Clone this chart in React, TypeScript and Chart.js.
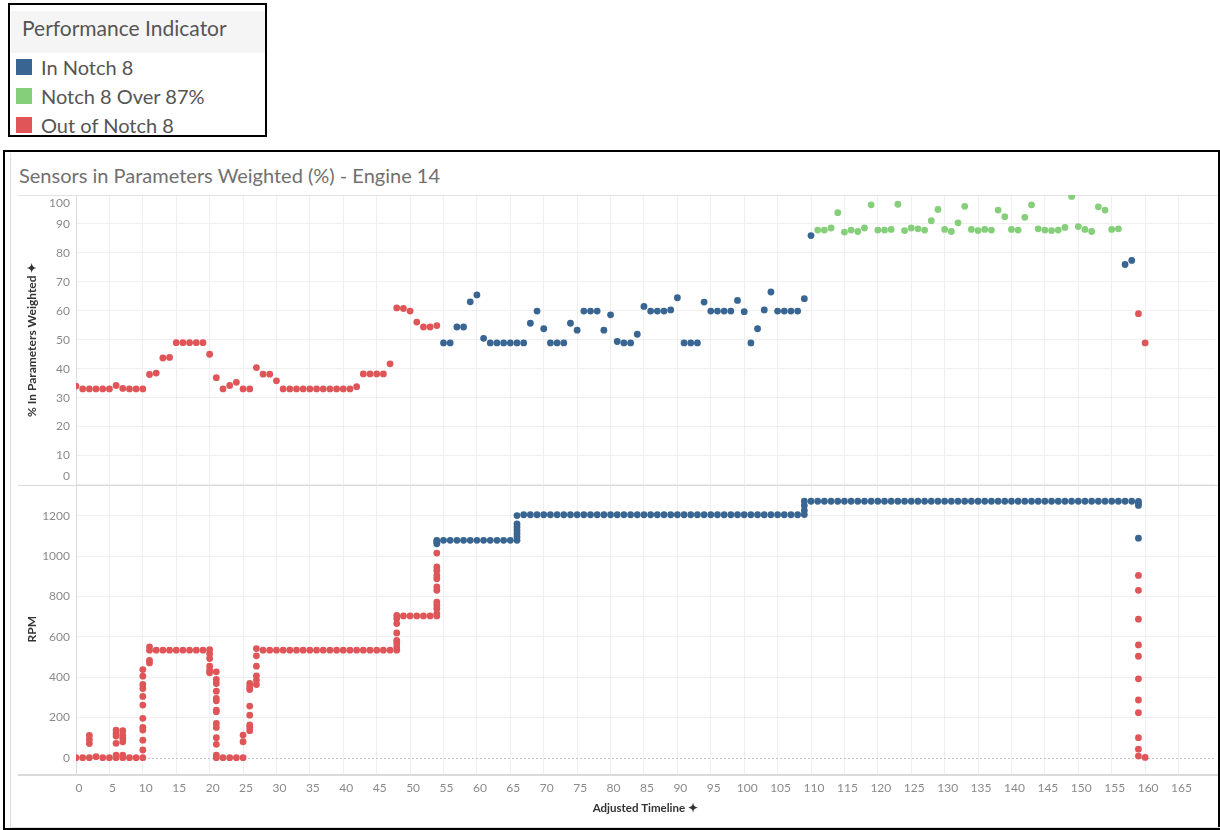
import React, { useEffect, useRef } from "react";
import { Chart, registerables } from "chart.js";

Chart.register(...registerables);

// ---------- data ----------
const xTicks = [0, 5, 10, 15, 20, 25, 30, 35, 40, 45, 50, 55, 60, 65, 70, 75, 80, 85, 90, 95, 100, 105, 110, 115, 120, 125, 130, 135, 140, 145, 150, 155, 160, 165];
const pctTicks = [0, 10, 20, 30, 40, 50, 60, 70, 80, 90, 100];
const rpmTicks = [0, 200, 400, 600, 800, 1000, 1200];

// [adjusted timeline, % in parameters weighted]
const pctOutOfNotch8: [number, number][] = [
  [0, 34.0], [1, 33.0], [2, 33.0], [3, 33.0], [4, 33.0], [5, 33.0], [6, 34.2], [7, 33.2], [8, 33.0], [9, 33.0],
  [10, 33.0], [11, 38.0], [12, 38.5], [13, 43.7], [14, 43.9], [15, 49.0], [16, 49.0], [17, 49.0], [18, 49.0], [19, 49.0],
  [20, 45.0], [21, 36.9], [22, 33.0], [23, 34.2], [24, 35.3], [25, 33.0], [26, 33.0], [27, 40.4], [28, 38.1], [29, 38.1],
  [30, 35.8], [31, 33.0], [32, 33.0], [33, 33.0], [34, 33.0], [35, 33.0], [36, 33.0], [37, 33.0], [38, 33.0], [39, 33.0],
  [40, 33.0], [41, 33.0], [42, 33.8], [43, 38.2], [44, 38.2], [45, 38.2], [46, 38.2], [47, 41.7], [48, 61.0], [49, 60.8],
  [50, 59.9], [51, 56.1], [52, 54.4], [53, 54.4], [54, 54.9], [159, 59.0], [160, 48.9],
];
const pctInNotch8: [number, number][] = [
  [55, 48.9], [56, 48.9], [57, 54.4], [58, 54.4], [59, 63.1], [60, 65.5], [61, 50.5], [62, 48.9], [63, 48.9], [64, 48.9],
  [65, 48.9], [66, 48.9], [67, 48.9], [68, 55.7], [69, 59.9], [70, 53.8], [71, 48.9], [72, 48.9], [73, 48.9], [74, 55.7],
  [75, 53.3], [76, 59.9], [77, 59.9], [78, 59.9], [79, 53.3], [80, 58.6], [81, 49.4], [82, 48.9], [83, 48.9], [84, 51.9],
  [85, 61.5], [86, 59.9], [87, 59.9], [88, 59.9], [89, 60.3], [90, 64.5], [91, 48.9], [92, 48.9], [93, 48.9], [94, 63.0],
  [95, 59.9], [96, 59.9], [97, 59.9], [98, 59.9], [99, 63.6], [100, 59.7], [101, 48.9], [102, 53.8], [103, 60.3], [104, 66.5],
  [105, 59.9], [106, 59.9], [107, 59.9], [108, 59.9], [109, 64.2], [110, 86.0], [157, 76.0], [158, 77.4],
];
const pctOver87: [number, number][] = [
  [111, 87.9], [112, 87.9], [113, 88.6], [114, 93.9], [115, 87.2], [116, 87.9], [117, 87.4], [118, 88.6], [119, 96.6], [120, 87.9],
  [121, 87.9], [122, 88.1], [123, 96.8], [124, 87.7], [125, 88.6], [126, 88.3], [127, 87.9], [128, 91.1], [129, 95.0], [130, 88.1],
  [131, 87.4], [132, 90.4], [133, 96.1], [134, 88.1], [135, 87.7], [136, 88.1], [137, 87.9], [138, 94.8], [139, 92.5], [140, 88.1],
  [141, 87.9], [142, 92.3], [143, 96.6], [144, 88.3], [145, 87.9], [146, 87.7], [147, 87.9], [148, 88.8], [149, 99.5], [150, 89.1],
  [151, 88.1], [152, 87.4], [153, 95.9], [154, 94.8], [155, 88.1], [156, 88.3],
];

// [adjusted timeline, RPM readings at that step]
const rpmOutOfNotch8: [number, number[]][] = [
  [0, [0]], [1, [0]], [2, [0, 70, 90, 110]], [3, [5]], [4, [0]], [5, [0]],
  [6, [0, 13, 71, 107, 120, 137]], [7, [0, 13, 79, 96, 112, 134]], [8, [0]], [9, [0]],
  [10, [0, 38, 87, 137, 150, 195, 261, 304, 343, 363, 404, 437]], [11, [470, 483, 533, 550]],
  [12, [533]], [13, [533]], [14, [533]], [15, [533]], [16, [533]], [17, [533]], [18, [533]], [19, [533]],
  [20, [421, 434, 454, 492, 516, 536]],
  [21, [0, 13, 66, 99, 150, 170, 228, 236, 282, 294, 330, 368, 388, 426]],
  [22, [0]], [23, [0]], [24, [0]], [25, [0, 79, 112]],
  [26, [134, 150, 162, 211, 256, 338, 351, 368]], [27, [363, 385, 406, 454, 505, 541]],
  [28, [533]], [29, [533]], [30, [533]], [31, [533]], [32, [533]], [33, [533]], [34, [533]], [35, [533]], [36, [533]], [37, [533]],
  [38, [533]], [39, [533]], [40, [533]], [41, [533]], [42, [533]], [43, [533]], [44, [533]], [45, [533]], [46, [533]], [47, [533]],
  [48, [533, 550, 569, 582, 619, 665, 690, 706]],
  [49, [703]], [50, [703]], [51, [703]], [52, [703]], [53, [703]],
  [54, [703, 714, 739, 756, 772, 830, 847, 888, 904, 929, 946, 1015]],
  [159, [8, 42, 99, 223, 286, 391, 503, 559, 687, 830, 904]], [160, [1]],
];
const rpmInNotch8: [number, number[]][] = [
  [54, [1061, 1069, 1078]],
  [55, [1078]], [56, [1078]], [57, [1078]], [58, [1078]], [59, [1078]], [60, [1078]], [61, [1078]], [62, [1078]], [63, [1078]], [64, [1078]], [65, [1078]],
  [66, [1078, 1094, 1111, 1127, 1144, 1160, 1201]],
  [67, [1205]], [68, [1205]], [69, [1205]], [70, [1205]], [71, [1205]], [72, [1205]], [73, [1205]], [74, [1205]], [75, [1205]], [76, [1205]],
  [77, [1205]], [78, [1205]], [79, [1205]], [80, [1205]], [81, [1205]], [82, [1205]], [83, [1205]], [84, [1205]], [85, [1205]], [86, [1205]],
  [87, [1205]], [88, [1205]], [89, [1205]], [90, [1205]], [91, [1205]], [92, [1205]], [93, [1205]], [94, [1205]], [95, [1205]], [96, [1205]],
  [97, [1205]], [98, [1205]], [99, [1205]], [100, [1205]], [101, [1205]], [102, [1205]], [103, [1205]], [104, [1205]], [105, [1205]], [106, [1205]],
  [107, [1205]], [108, [1205]],
  [109, [1206, 1226, 1251, 1273]],
  [110, [1272]], [111, [1272]], [112, [1272]], [113, [1272]], [114, [1272]], [115, [1272]], [116, [1272]], [117, [1272]], [118, [1272]], [119, [1272]],
  [120, [1272]], [121, [1272]], [122, [1272]], [123, [1272]], [124, [1272]], [125, [1272]], [126, [1272]], [127, [1272]], [128, [1272]], [129, [1272]],
  [130, [1272]], [131, [1272]], [132, [1272]], [133, [1272]], [134, [1272]], [135, [1272]], [136, [1272]], [137, [1272]], [138, [1272]], [139, [1272]],
  [140, [1272]], [141, [1272]], [142, [1272]], [143, [1272]], [144, [1272]], [145, [1272]], [146, [1272]], [147, [1272]], [148, [1272]], [149, [1272]],
  [150, [1272]], [151, [1272]], [152, [1272]], [153, [1272]], [154, [1272]], [155, [1272]], [156, [1272]], [157, [1272]], [158, [1272]],
  [159, [1089, 1251, 1262, 1271]],
];

const legendItems = ["In Notch 8", "Notch 8 Over 87%", "Out of Notch 8"];

// ---------- styles ----------
const BLUE = "#386591";
const GREEN = "#86cf7a";
const RED = "#e05558";
const legendColors = [BLUE, GREEN, RED];
const FONT = "Lato, 'Open Sans', sans-serif";
const TICK_COLOR = "#8a8a8a";

const toPts = (arr: [number, number][]) => arr.map(([x, y]) => ({ x, y }));
const toRpmPts = (arr: [number, number[]][]) => arr.flatMap(([x, vals]) => vals.map((y) => ({ x, y })));

const framePlugin = {
  id: "tableauFrame",
  beforeDatasetsDraw(chart: any) {
    const { ctx, chartArea } = chart;
    const yR = chart.scales.yRpm;
    const yP = chart.scales.yPct;
    const line = (x1: number, y1: number, x2: number, y2: number) => {
      ctx.beginPath();
      ctx.moveTo(x1, y1);
      ctx.lineTo(x2, y2);
      ctx.stroke();
    };
    ctx.save();
    ctx.lineWidth = 1;
    ctx.strokeStyle = "#c4c4c4";
    ctx.setLineDash([2, 2]);
    const y0 = Math.round(yR.getPixelForValue(0)) + 0.5;
    line(chartArea.left, y0, chartArea.right, y0);
    ctx.setLineDash([]);
    ctx.strokeStyle = "#e2e2e2";
    line(12, Math.round(chartArea.top) + 0.5, chart.width, Math.round(chartArea.top) + 0.5);
    ctx.strokeStyle = "#d9d9d9";
    line(12, Math.round(yP.bottom) + 0.5, chart.width, Math.round(yP.bottom) + 0.5);
    ctx.strokeStyle = "#dadada";
    ctx.lineWidth = 2;
    line(12, Math.round(chartArea.bottom) + 1, chart.width, Math.round(chartArea.bottom) + 1);
    ctx.lineWidth = 1;
    ctx.strokeStyle = "#dcdcdc";
    line(Math.round(chartArea.left) + 0.5, chartArea.top, Math.round(chartArea.left) + 0.5, chartArea.bottom);
    // edge labels of the % panel are pulled inside the pane, as Tableau does
    ctx.fillStyle = TICK_COLOR;
    ctx.font = `12px ${FONT}`;
    ctx.textAlign = "right";
    ctx.textBaseline = "middle";
    ctx.fillText(String(pctTicks[pctTicks.length - 1]), chartArea.left - 6, yP.getPixelForValue(pctTicks[pctTicks.length - 1]) + 8);
    ctx.fillText(String(pctTicks[0]), chartArea.left - 6, yP.getPixelForValue(pctTicks[0]) - 8);
    ctx.restore();
  },
};

function ScatterPanels() {
  const ref = useRef<HTMLCanvasElement | null>(null);
  useEffect(() => {
    if (!ref.current) return;
    const pointOpts = { pointRadius: 3.4, pointHoverRadius: 3.4, borderWidth: 0, showLine: false };
    const tickFont = { family: FONT, size: 12 };
    const titleFont = { family: FONT, size: 12, weight: "bold" };
    const chart = new Chart(ref.current, {
      type: "scatter",
      data: {
        datasets: [
          { label: "Out of Notch 8", data: toPts(pctOutOfNotch8), yAxisID: "yPct", backgroundColor: RED, borderColor: RED, ...pointOpts },
          { label: "In Notch 8", data: toPts(pctInNotch8), yAxisID: "yPct", backgroundColor: BLUE, borderColor: BLUE, ...pointOpts },
          { label: "Notch 8 Over 87%", data: toPts(pctOver87), yAxisID: "yPct", backgroundColor: GREEN, borderColor: GREEN, ...pointOpts },
          { label: "Out of Notch 8 RPM", data: toRpmPts(rpmOutOfNotch8), yAxisID: "yRpm", backgroundColor: RED, borderColor: RED, ...pointOpts },
          { label: "In Notch 8 RPM", data: toRpmPts(rpmInNotch8), yAxisID: "yRpm", backgroundColor: BLUE, borderColor: BLUE, ...pointOpts },
        ],
      },
      options: {
        animation: false,
        responsive: false,
        maintainAspectRatio: false,
        layout: { padding: { left: 0, top: 42, right: 2, bottom: 0 } },
        plugins: { legend: { display: false }, tooltip: { enabled: false } },
        scales: {
          x: {
            type: "linear",
            position: "bottom",
            min: 0,
            max: 170.4,
            afterBuildTicks: (s: any) => {
              s.ticks = xTicks.map((v) => ({ value: v }));
            },
            afterFit: (s: any) => {
              s.height = 53;
            },
            grid: { color: "#efefef", drawTicks: false },
            border: { display: false },
            ticks: { color: TICK_COLOR, font: tickFont, padding: 7, maxRotation: 0, autoSkip: false, labelOffset: 3, callback: (v: any) => String(v) },
            title: {
              display: true,
              text: "Adjusted Timeline ✦",
              color: "#333",
              font: { family: FONT, size: 11.5, weight: "bold" },
              padding: { top: 0, bottom: 12 },
            },
          },
          yRpm: {
            type: "linear",
            position: "left",
            stack: "panels",
            stackWeight: 1,
            min: -81,
            max: 1355,
            afterBuildTicks: (s: any) => {
              s.ticks = rpmTicks.map((v) => ({ value: v }));
            },
            afterFit: (s: any) => {
              s.width = 70;
            },
            grid: { color: (c: any) => (c.tick && c.tick.value === 0 ? "rgba(0,0,0,0)" : "#efefef"), drawTicks: false },
            border: { display: false },
            ticks: { color: TICK_COLOR, font: tickFont, padding: 6, autoSkip: false, callback: (v: any) => String(v) },
            title: { display: true, text: "RPM", color: "#333", font: titleFont, padding: { top: 19, bottom: 0 } },
          },
          yPct: {
            type: "linear",
            position: "left",
            stack: "panels",
            stackWeight: 1,
            min: 0,
            max: 100,
            afterBuildTicks: (s: any) => {
              s.ticks = pctTicks.map((v) => ({ value: v }));
            },
            afterFit: (s: any) => {
              s.width = 70;
            },
            grid: { color: "#efefef", drawTicks: false },
            border: { display: false },
            ticks: {
              color: TICK_COLOR,
              font: tickFont,
              padding: 6,
              autoSkip: false,
              callback: (v: any) => (v === pctTicks[0] || v === pctTicks[pctTicks.length - 1] ? "" : String(v)),
            },
            title: {
              display: true,
              text: "% In Parameters Weighted ✦",
              color: "#333",
              font: titleFont,
              padding: { top: 19, bottom: 0 },
            },
          },
        },
      } as any,
      plugins: [framePlugin],
    });
    return () => chart.destroy();
  }, []);
  return <canvas ref={ref} width={1212} height={674} style={{ position: "absolute", left: 6, top: 153, width: 1212, height: 674 }} />;
}

export default function App() {
  return (
    <div style={{ position: "absolute", left: 0, top: 0, width: 1220, height: 830, background: "#fff", overflow: "hidden", fontFamily: FONT }}>
      {/* legend */}
      <div style={{ position: "absolute", left: 8, top: 3, width: 259, height: 134, border: "2px solid #000", boxSizing: "border-box" }}>
        <div style={{ position: "absolute", left: 1, top: 6, width: 254, height: 42, background: "#f5f5f5" }} />
        <div style={{ position: "absolute", left: 12, top: 10, fontSize: 21, color: "#555", whiteSpace: "nowrap" }}>Performance Indicator</div>
        {legendItems.map((t, i) => (
          <div key={t} style={{ position: "absolute", left: 6, top: 52 + i * 29, height: 20, display: "flex", alignItems: "center", whiteSpace: "nowrap" }}>
            <span style={{ display: "inline-block", width: 16, height: 16, background: legendColors[i], marginRight: 9 }} />
            <span style={{ fontSize: 20, color: "#555" }}>{t}</span>
          </div>
        ))}
      </div>
      {/* chart frame */}
      <div style={{ position: "absolute", left: 3, top: 150, width: 1217, height: 680, border: "2px solid #000", boxSizing: "border-box" }} />
      <div style={{ position: "absolute", left: 10, top: 153, width: 1210, height: 675, borderLeft: "1px solid #dedede", borderBottom: "1px solid #dedede", boxSizing: "border-box" }} />
      <div style={{ position: "absolute", left: 19, top: 163, fontSize: 20, color: "#707070", whiteSpace: "nowrap" }}>
        Sensors in Parameters Weighted (%) - Engine 14
      </div>
      <ScatterPanels />
    </div>
  );
}
